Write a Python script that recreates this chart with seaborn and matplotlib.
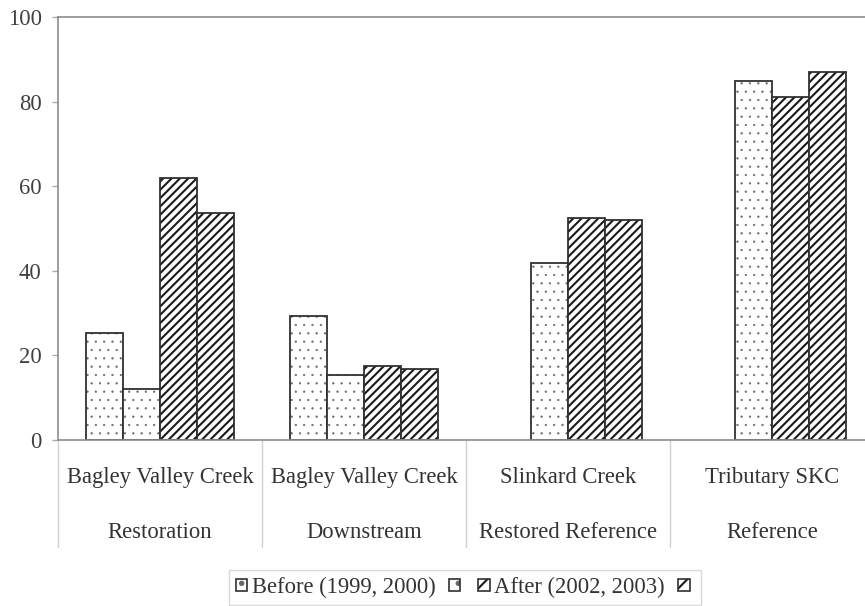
import numpy as np
import pandas as pd
import seaborn as sns
import matplotlib.pyplot as plt
from matplotlib.colors import to_rgba
from matplotlib.patches import Patch

# site names (top label row) and site roles (bottom label row)
sites = ["Bagley Valley Creek", "Bagley Valley Creek", "Slinkard Creek", "Tributary SKC"]
roles = ["Restoration", "Downstream", "Restored Reference", "Reference"]
years = ["1999", "2000", "2002", "2003"]

# values, one list per year
y1999 = [25.2, 29.2, np.nan, np.nan]
y2000 = [12.0, 15.4, 41.8, 84.9]
y2002 = [61.9, 17.4, 52.4, 81.1]
y2003 = [53.6, 16.7, 52.1, 87.1]

legend_labels = ["Before (1999, 2000)", "", "After (2002, 2003)", ""]
hatches = ["..", "..", "////", "////"]

rows = []
for series, year in zip([y1999, y2000, y2002, y2003], years):
    for role, v in zip(roles, series):
        rows.append({"role": role, "year": year, "value": v})
df = pd.DataFrame(rows)

sns.set_style("white")
plt.rcParams["font.family"] = ["Liberation Serif", "DejaVu Serif"]
plt.rcParams["hatch.linewidth"] = 1.5

FS = 16.3
edge = "#303030"


def style_hatch(p, h):
    p.set_hatch(h)
    if h.startswith("."):
        # small grey dots
        if hasattr(p, "set_hatch_linewidth"):
            p.set_hatch_linewidth(0.4)
        p._hatch_color = to_rgba("#6a6a6a")
    else:
        if hasattr(p, "set_hatch_linewidth"):
            p.set_hatch_linewidth(1.5)
        p._hatch_color = to_rgba("#1a1a1a")


fig = plt.figure(figsize=(8.65, 6.06), dpi=100)
# axes runs slightly past the right edge, as in the original crop
ax = fig.add_axes([58 / 865, 166 / 606, 816 / 865, 423 / 606])

sns.barplot(data=df, x="role", y="value", hue="year", order=roles, hue_order=years,
            palette={y: "white" for y in years}, width=0.725, gap=0, errorbar=None,
            edgecolor=edge, linewidth=1.3, legend=False, ax=ax)

for cont, h in zip(ax.containers, hatches):
    for bar in cont:
        style_hatch(bar, h)

ax.set_xlim(-0.5, 3.5)
ax.set_ylim(0, 100)
ax.set_yticks(range(0, 101, 20))
ax.set_xticks([])
ax.set_xlabel("")
ax.set_ylabel("")
ax.tick_params(axis="y", length=4.3, width=1, color="#aaaaaa", pad=7.5,
               labelsize=FS, labelcolor="#404040", left=True)

for side in ["top", "left", "bottom"]:
    ax.spines[side].set_visible(True)
    ax.spines[side].set_color("#8c8c8c")
    ax.spines[side].set_linewidth(1.2)
ax.spines["right"].set_visible(False)

# two-row category labels with separators
tr = ax.get_xaxis_transform()
for i in range(len(roles)):
    ax.text(i, -0.0898, sites[i], transform=tr, ha="center", va="center",
            fontsize=FS, color="#333333")
    ax.text(i, -0.2175, roles[i], transform=tr, ha="center", va="center",
            fontsize=FS, color="#333333")
for b in np.arange(-0.5, len(roles), 1.0):
    ax.plot([b, b], [0, -0.253], transform=tr, color="#d0d0d0", lw=1, clip_on=False)

handles = []
for h in hatches:
    p = Patch(facecolor="white", edgecolor=edge, linewidth=1.2)
    style_hatch(p, "." if h.startswith(".") else "//")
    handles.append(p)
leg = fig.legend(handles, legend_labels, loc="center",
                 bbox_to_anchor=(465 / 865, 1 - 587.5 / 606), ncol=4, frameon=True,
                 fancybox=False, edgecolor="#d0d0d0", handlelength=0.5,
                 handleheight=0.5, handletextpad=0.2, columnspacing=0.6,
                 borderpad=0.3, fontsize=FS, labelcolor="#333333")
leg.get_frame().set_linewidth(1)

fig.savefig("out.png", dpi=100)
